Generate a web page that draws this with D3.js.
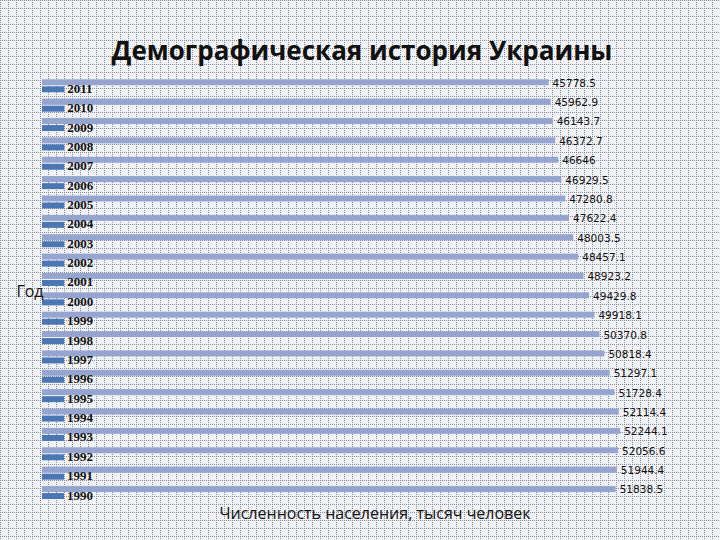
<!DOCTYPE html>
<html>
<head>
<meta charset="utf-8">
<script src="https://cdn.jsdelivr.net/npm/d3@7"></script>
<style>
  html, body { margin: 0; padding: 0; background: #fff; }
  svg { display: block; }
</style>
</head>
<body>
<svg id="chart" width="720" height="540"></svg>
<script>
const years = [1990, 1991, 1992, 1993, 1994, 1995, 1996, 1997, 1998, 1999, 2000,
               2001, 2002, 2003, 2004, 2005, 2006, 2007, 2008, 2009, 2010, 2011];
const population = [51838.5, 51944.4, 52056.6, 52244.1, 52114.4, 51728.4, 51297.1,
                    50818.4, 50370.8, 49918.1, 49429.8, 48923.2, 48457.1, 48003.5,
                    47622.4, 47280.8, 46929.5, 46646, 46372.7, 46143.7, 45962.9, 45778.5];
const titleText = "Демографическая история Украины";
const xTitle = "Численность населения, тысяч человек";
const yTitle = "Год";

const svg = d3.select("#chart");
const W = 720, H = 540;

// background graph-paper pattern
const defs = svg.append("defs");
const pat = defs.append("pattern").attr("id", "grid")
  .attr("width", 8).attr("height", 8).attr("patternUnits", "userSpaceOnUse");
pat.append("rect").attr("width", 8).attr("height", 8).attr("fill", "#f1f2f5");
pat.append("line").attr("x1", 0.5).attr("x2", 0.5).attr("y1", 0).attr("y2", 8)
  .attr("stroke", "#858b94").attr("stroke-width", 1).attr("stroke-dasharray", "1,1");
pat.append("line").attr("x1", 0).attr("x2", 8).attr("y1", 0.5).attr("y2", 0.5)
  .attr("stroke", "#858b94").attr("stroke-width", 1).attr("stroke-dasharray", "1,1");
svg.append("rect").attr("width", W).attr("height", H).attr("fill", "url(#grid)");

const x = d3.scaleLinear().domain([0, 60000]).range([42, 706]);
const y = d3.scaleBand().domain(years.slice().reverse()).range([76.1, 502.2]).padding(0);
const inner = d3.scaleBand().domain(["pop", "year"])
  .range([y.bandwidth() / 2 - 6.5, y.bandwidth() / 2 + 6.5]).paddingInner(0.15).paddingOuter(0);

const data = years.map((yr, i) => ({ year: yr, pop: population[i] }));

const g = svg.append("g");
const groups = g.selectAll("g.cat").data(data).join("g")
  .attr("class", "cat")
  .attr("transform", d => `translate(0,${y(d.year)})`);

// population bars
groups.append("rect")
  .attr("x", x(0))
  .attr("y", inner("pop"))
  .attr("width", d => x(d.pop) - x(0))
  .attr("height", inner.bandwidth())
  .attr("fill", "#95a5cf");

// year bars
groups.append("rect")
  .attr("x", x(0))
  .attr("y", inner("year"))
  .attr("width", d => x(d.year) - x(0))
  .attr("height", inner.bandwidth())
  .attr("fill", "#4a77b4");

// value labels
groups.append("text")
  .attr("x", d => x(d.pop) + 4)
  .attr("y", inner("pop") + inner.bandwidth() / 2 + 1.5)
  .attr("dominant-baseline", "middle")
  .attr("font-family", "DejaVu Sans, sans-serif")
  .attr("font-size", 10.5)
  .attr("fill", "#111")
  .text(d => String(d.pop));

// year labels
groups.append("text")
  .attr("x", d => x(d.year) + 3)
  .attr("y", inner("year") + inner.bandwidth() / 2 + 0.5)
  .attr("dominant-baseline", "middle")
  .attr("font-family", "Liberation Serif, serif")
  .attr("font-weight", "bold")
  .attr("font-size", 13)
  .attr("fill", "#111")
  .text(d => String(d.year));

// titles
svg.append("text")
  .attr("x", 362).attr("y", 60)
  .attr("text-anchor", "middle")
  .attr("font-family", "Open Sans, sans-serif")
  .attr("font-weight", "bold")
  .attr("font-size", 26)
  .attr("fill", "#111")
  .text(titleText);

svg.append("text")
  .attr("x", 375).attr("y", 519)
  .attr("text-anchor", "middle")
  .attr("font-family", "Open Sans, sans-serif")
  .attr("font-size", 16)
  .attr("fill", "#111")
  .text(xTitle);

svg.append("text")
  .attr("x", 30).attr("y", 297)
  .attr("text-anchor", "middle")
  .attr("font-family", "Open Sans, sans-serif")
  .attr("font-size", 16)
  .attr("fill", "#111")
  .text(yTitle);
</script>
</body>
</html>
